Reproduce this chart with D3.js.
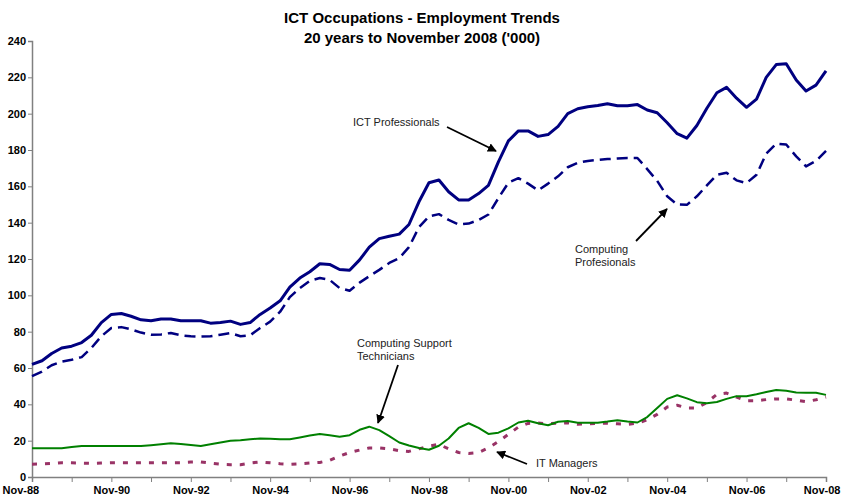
<!DOCTYPE html>
<html>
<head>
<meta charset="utf-8">
<script src="https://cdn.jsdelivr.net/npm/d3@7"></script>
<style>
  body { margin: 0; background: #fff; }
  svg { font-family: Arial, "Liberation Sans", sans-serif; }
</style>
</head>
<body>
<div id="chart"></div>
<script>
// quarterly series, Nov-88 .. Nov-08 ('000)
let ictProfessionals = [62, 64, 68, 71, 72, 74, 78, 85, 89.5, 90, 88.5, 86.5, 86, 87, 87, 86, 86, 86, 84.7, 85,
    85.8, 84, 85, 89.5, 93, 97, 104.5, 109.5, 113, 117.4, 117, 114.2, 113.8, 119.5, 126.5, 131.2, 132.5, 133.7, 139, 151.5,
    162, 163.5, 157, 152.5, 152.5, 156, 160.5, 173.5, 185, 190.5, 190.5, 187.5, 188.5, 193, 200, 202.7, 203.8, 204.5, 205.5, 204.4,
    204.4, 205, 202, 200.5, 195, 189, 186.5, 193.5, 203, 211.5, 214.5, 208.5, 203.5, 208, 220, 227, 227.5, 218.5, 212.5, 215.7,
    223.5];
let computingProfessionals = [55.5, 58, 61.5, 63.5, 64.5, 66, 71, 77.5, 82, 82.5, 81.3, 79.5, 78.3, 78.5, 79.3, 78, 77.5, 77.3, 77.5, 78.3,
    79.2, 77.5, 78, 82, 85.5, 91, 99, 104, 108, 109.5, 108.5, 104, 102.5, 107, 110.5, 114, 117.8, 120.5, 126.5, 137.5,
    143.5, 144.7, 141.5, 139, 139.5, 141.5, 144.5, 153.5, 162, 164.5, 161.5, 157.8, 161.5, 165.5, 170.5, 173, 174, 174.5, 175, 175.3,
    175.6, 175.6, 169.5, 163, 154.5, 150, 149.8, 154.5, 160.5, 166.4, 167.5, 163.3, 161.8, 166.4, 178, 183.5, 183, 176.5, 171, 174,
    179.5];
let supportTechnicians = [15.8, 15.8, 15.8, 15.8, 16.5, 17, 17, 17, 17, 17, 17, 17.1, 17.5, 18, 18.6, 18.2, 17.6, 17.1, 18, 19,
    20, 20.2, 20.8, 21.2, 21, 20.8, 20.8, 21.8, 22.8, 23.7, 23, 22.2, 23, 26, 27.7, 25.8, 22.5, 19, 17.3, 16,
    15, 17.2, 21.2, 27, 29.6, 27, 23.7, 24.4, 26.8, 30, 31, 29.6, 28.5, 30.4, 30.8, 29.9, 29.9, 29.9, 30.5, 31.3,
    30.5, 30, 33, 38, 43, 45, 43.3, 41.2, 40.6, 41.3, 43, 44.5, 44.5, 45.5, 46.8, 47.9, 47.5, 46.5, 46.4, 46.4,
    45.2];
let itManagers = [7, 7.2, 7.5, 7.9, 7.8, 7.6, 7.5, 7.7, 7.9, 7.9, 7.9, 7.9, 7.9, 7.9, 7.9, 7.9, 8.2, 8.3, 7.6, 7,
    6.8, 6.8, 7.7, 8.3, 7.8, 7.3, 7, 7.3, 7.7, 8, 9.2, 11.5, 13.5, 14.8, 16, 16, 15.5, 14.5, 14.1, 15.5,
    17, 18, 15.5, 13.5, 13, 13.5, 16, 19.5, 23.5, 27.5, 29.5, 29.7, 29.3, 29.6, 29.8, 29, 29.3, 29.6, 29.6, 29.3,
    29, 29.6, 31.5, 34.5, 38.5, 39.5, 38, 38, 41, 45.5, 46.2, 44, 42, 42, 42.6, 43, 43, 42.3, 41.5, 42.5,
    44];

let yTicks = [0, 20, 40, 60, 80, 100, 120, 140, 160, 180, 200, 220, 240];
let titleLines = ["ICT Occupations - Employment Trends", "20 years to November 2008 ('000)"];

let startDate = new Date(1988, 10, 1);
let endDate = new Date(2008, 10, 1);
let quarters = d3.timeMonth.range(startDate, new Date(2008, 10, 2), 3);
let years = d3.timeMonth.range(startDate, new Date(2008, 10, 2), 12);

let margin = {top: 41, right: 15, bottom: 22, left: 32};
let width = 841 - margin.left - margin.right;
let height = 499 - margin.top - margin.bottom;

let svg = d3.select("#chart")
    .append("svg")
        .attr("width", 841)
        .attr("height", 499)
    .append("g")
        .attr("transform", "translate(" + margin.left + "," + margin.top + ")");

let defs = d3.select("svg").append("defs");
defs.append("marker")
    .attr("id", "arrow")
    .attr("viewBox", "0 0 10 10")
    .attr("refX", 9)
    .attr("refY", 5)
    .attr("markerWidth", 5)
    .attr("markerHeight", 5)
    .attr("markerUnits", "strokeWidth")
    .attr("orient", "auto")
  .append("path")
    .attr("d", "M0,0 L10,5 L0,10 z")
    .attr("fill", "#000");

// title
d3.select("svg").selectAll(".title")
    .data(titleLines)
    .enter()
    .append("text")
        .attr("x", 422)
        .attr("y", (d, i) => 23 + i * 20)
        .attr("text-anchor", "middle")
        .style("font-size", "15px")
        .style("font-weight", "bold")
        .text(d => d);

let xScale = d3.scaleTime()
    .domain([startDate, endDate])
    .range([0, width]);

let yScale = d3.scaleLinear()
    .domain([0, 240])
    .range([height, 0]);

let fmt = d3.timeFormat("%b-%y");

let xAxis = svg.append("g")
    .attr("transform", "translate(0," + height + ")")
    .call(d3.axisBottom(xScale)
        .tickValues(years)
        .tickSize(5)
        .tickFormat(function(d){
            return d.getFullYear() % 2 == 0 ? fmt(d) : "";
        }));

let yAxis = svg.append("g")
    .call(d3.axisLeft(yScale)
        .tickValues(yTicks)
        .tickSize(4));

[xAxis, yAxis].forEach((ax) => {
    ax.select(".domain").attr("stroke", "#808080").attr("stroke-width", 1.5);
    ax.selectAll(".tick line").attr("stroke", "#808080");
    ax.selectAll(".tick text")
        .style("font-size", "11px")
        .style("font-weight", "bold")
        .style("font-family", "Arial, 'Liberation Sans', sans-serif")
        .attr("fill", "#000");
});
xAxis.selectAll(".tick text").attr("dy", "0.8em");
// keep first and last labels inside the picture
let xTexts = xAxis.selectAll(".tick text").nodes();
d3.select(xTexts[0]).attr("text-anchor", "start").attr("x", -30);
d3.select(xTexts[xTexts.length - 1]).attr("text-anchor", "end").attr("x", 14);
yAxis.selectAll(".tick text").attr("x", -6);

let line = d3.line()
    .x((d, i) => xScale(quarters[i]))
    .y(d => yScale(d));

let series = [
    {values: itManagers, color: "#993366", width: 3, dash: "5,8"},
    {values: supportTechnicians, color: "#008000", width: 2, dash: null},
    {values: computingProfessionals, color: "#000080", width: 2.5, dash: "11,6"},
    {values: ictProfessionals, color: "#000080", width: 3, dash: null}
];

series.forEach((s) => {
    svg.append("path")
        .datum(s.values)
        .attr("d", line)
        .attr("fill", "none")
        .attr("stroke", s.color)
        .attr("stroke-width", s.width)
        .attr("stroke-dasharray", s.dash)
        .attr("stroke-linejoin", "round");
});

// annotations (page coordinates)
let labels = [
    {lines: ["ICT Professionals"], x: 353, y: 126, from: [447, 127], to: [496, 151]},
    {lines: ["Computing", "Profesionals"], x: 575, y: 253, from: [636, 241], to: [667, 209]},
    {lines: ["Computing Support", "Technicians"], x: 357, y: 347, from: [398, 365], to: [378, 423]},
    {lines: ["IT Managers"], x: 536, y: 467, from: [527, 464], to: [497, 452]}
];

let notes = d3.select("svg").append("g");
labels.forEach((l) => {
    let t = notes.append("text")
        .attr("x", l.x)
        .attr("y", l.y)
        .style("font-size", "11px")
        .attr("fill", "#222");
    l.lines.forEach((s, i) => {
        t.append("tspan").attr("x", l.x).attr("dy", i == 0 ? 0 : 13).text(s);
    });
    notes.append("line")
        .attr("x1", l.from[0]).attr("y1", l.from[1])
        .attr("x2", l.to[0]).attr("y2", l.to[1])
        .attr("stroke", "#000")
        .attr("stroke-width", 1.8)
        .attr("marker-end", "url(#arrow)");
});
</script>
</body>
</html>
